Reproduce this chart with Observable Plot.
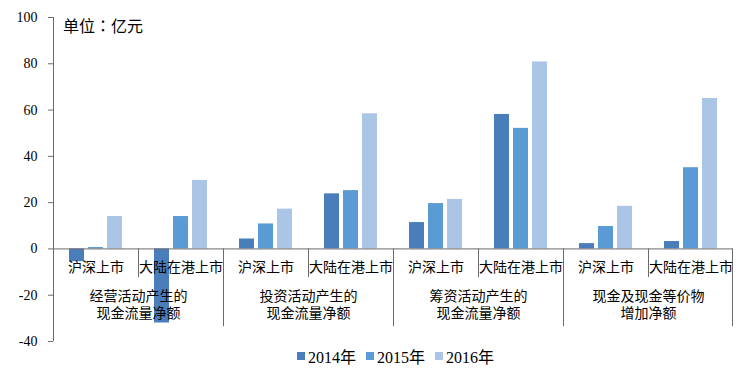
<!DOCTYPE html>
<html><head><meta charset="utf-8">
<script src="https://cdn.jsdelivr.net/npm/d3@7"></script>
<script src="https://cdn.jsdelivr.net/npm/@observablehq/plot@0.6"></script>
<style>
body{margin:0;background:#fff;}
#wrap{position:relative;width:745px;height:372px;overflow:hidden;}
#unit{position:absolute;left:63px;top:14px;font-size:16px;line-height:22px;color:#000;font-family:"Noto Sans CJK TC","Noto Sans CJK SC",sans-serif;}
#legend{position:absolute;left:297px;top:339px;}
#legend [class$="-swatch"]{margin-right:10px !important;}
#legend [class$="-swatch"] > svg{margin-right:3px !important;}
</style></head><body>
<div id="wrap"><div id="chart"></div><div id="unit">单位：亿元</div><div id="legend"></div></div>
<script>
const groups = ["经营活动产生的\n现金流量净额", "投资活动产生的\n现金流量净额", "筹资活动产生的\n现金流量净额", "现金及现金等价物\n增加净额"];
const subs = ["沪深上市", "大陆在港上市"];
const years = ["2014年", "2015年", "2016年"];
const v2014 = [-5.5, -32, 4.3, 23.8, 11.4, 58.1, 2.3, 3.2];
const v2015 = [0.6, 14, 10.8, 25.2, 19.6, 52.1, 9.7, 35.1];
const v2016 = [14, 29.6, 17.2, 58.4, 21.4, 80.8, 18.4, 65];
const colors = ["#4a7ebb", "#5b9bd5", "#abc5e6"];
const yTicks = [-40, -20, 0, 20, 40, 60, 80, 100];

const cats = groups.flatMap((g, gi) => subs.map((s, si) => ({key: gi + "-" + si, group: g, sub: s, gi, si})));
const keys = cats.map(d => d.key);
const seriesVals = [v2014, v2015, v2016];
const rows = cats.flatMap((c, ci) => years.map((y, yi) => ({key: c.key, year: y, value: seriesVals[yi][ci]})));

const W = 745, H = 352, ML = 53, MR = 12, MT = 17, MB = 11;
const subW = (W - ML - MR) / keys.length;
const cjk = '"Noto Sans CJK SC", sans-serif';
const lineColor = "#6b6b6b";

// separators: short between sub-categories, long between groups
const leftRules = cats.filter((c, i) => i > 0).map(c => ({key: c.key, len: c.si === 1 ? -12.4 : -33.6}));
const rightRules = [{key: keys[keys.length - 1], len: -33.6}];
const axisLine = [{key: keys[0]}];
const groupLabels = cats.filter(c => c.si === 1);

const plot = Plot.plot({
  width: W, height: H,
  marginLeft: ML, marginRight: MR, marginTop: MT, marginBottom: MB,
  style: {fontFamily: '"Times New Roman","Liberation Serif",serif', fontSize: "14px", color: "#000", background: "#fff"},
  fx: {domain: keys, padding: 0, axis: null},
  x: {domain: years, paddingInner: 0.21, paddingOuter: 0.84, axis: null},
  y: {domain: [-40, 100]},
  color: {domain: years, range: colors},
  marks: [
    Plot.axisY(yTicks, {tickSize: 5, tickPadding: 11, tickFormat: d => String(d), label: null, stroke: lineColor, fill: "#000"}),
    Plot.ruleX(axisLine, {fx: "key", x: null, y1: () => -40, y2: () => 100, dx: -subW / 2, stroke: lineColor}),
    Plot.barY(rows, {fx: "key", x: "year", y: "value", fill: "year"}),
    Plot.ruleY([0], {stroke: lineColor}),
    Plot.ruleX(leftRules, {fx: "key", x: null, y1: () => 0, y2: d => d.len, dx: -subW / 2, stroke: lineColor}),
    Plot.ruleX(rightRules, {fx: "key", x: null, y1: () => 0, y2: d => d.len, dx: subW / 2 - 1, stroke: lineColor}),
    Plot.text(cats, {fx: "key", y: () => 0, text: "sub", dy: 19, fontFamily: cjk, fontSize: 14, fill: "#000"}),
    Plot.text(groupLabels, {fx: "key", y: () => 0, text: "group", frameAnchor: "left", textAnchor: "middle", dy: 55, lineHeight: 1.2, fontFamily: cjk, fontSize: 14, fill: "#000"})
  ]
});
document.getElementById("chart").appendChild(plot);

const leg = plot.legend("color", {swatchSize: 8, style: {fontFamily: '"Times New Roman","Liberation Serif","Noto Sans CJK SC",serif', fontSize: "16px", color: "#000"}});
document.getElementById("legend").appendChild(leg);
</script>
</body></html>
